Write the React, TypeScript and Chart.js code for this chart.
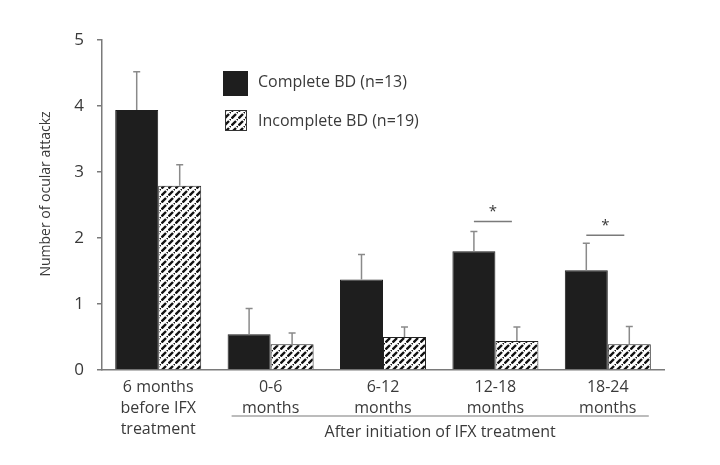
import React, { useEffect, useRef } from "react";
import { Chart, registerables } from "chart.js";

Chart.register(...registerables);

const categories: string[][] = [
  ["6 months", "before IFX", "treatment"],
  ["0-6", "months"],
  ["6-12", "months"],
  ["12-18", "months"],
  ["18-24", "months"],
];
const completeLabel = "Complete BD (n=13)";
const incompleteLabel = "Incomplete BD (n=19)";
const completeValues = [3.94, 0.54, 1.37, 1.8, 1.51];
const completeErrors = [0.58, 0.39, 0.38, 0.3, 0.41];
const incompleteValues = [2.79, 0.39, 0.5, 0.44, 0.39];
const incompleteErrors = [0.32, 0.17, 0.15, 0.21, 0.27];
const yTicks = [0, 1, 2, 3, 4, 5];
const sigIndices = [3, 4];
const sigLevels = [2.25, 2.04];
const yTitle = "Number of ocular attackz";
const groupTitle = "After initiation of IFX treatment";

const FONT = "'Open Sans', 'Noto Sans', sans-serif";
const TEXT = "#3a3a3a";
const AXIS = "#7a7a7a";

function makePattern(): CanvasPattern | string {
  const c = document.createElement("canvas");
  c.width = 7;
  c.height = 7;
  const g = c.getContext("2d");
  if (!g) return "#888";
  g.fillStyle = "#ffffff";
  g.fillRect(0, 0, 7, 7);
  g.strokeStyle = "#111";
  g.lineWidth = 2.4;
  g.lineCap = "butt";
  g.beginPath();
  g.moveTo(0.5, 6.5);
  g.lineTo(5, 2);
  g.stroke();
  g.beginPath();
  g.moveTo(6, 1);
  g.lineTo(7.5, -0.5);
  g.stroke();
  const p = g.createPattern(c, "repeat");
  return p || "#888";
}

const overlayPlugin = {
  id: "overlay",
  afterDatasetsDraw(chart: any) {
    const { ctx, scales } = chart;
    const ys = scales.y;
    ctx.save();
    const errs = [completeErrors, incompleteErrors];
    const vals = [completeValues, incompleteValues];
    [0, 1].forEach((d) => {
      const meta = chart.getDatasetMeta(d);
      meta.data.forEach((bar: any, i: number) => {
        const top = ys.getPixelForValue(vals[d][i]);
        const et = ys.getPixelForValue(vals[d][i] + errs[d][i]);
        ctx.strokeStyle = "#8a8a8a";
        ctx.lineWidth = 1.5;
        ctx.beginPath();
        ctx.moveTo(bar.x, top);
        ctx.lineTo(bar.x, et);
        ctx.moveTo(bar.x - 3.5, et);
        ctx.lineTo(bar.x + 3.5, et);
        ctx.stroke();
      });
    });
    const m0 = chart.getDatasetMeta(0);
    sigIndices.forEach((idx, k) => {
      const bar: any = m0.data[idx];
      const y = ys.getPixelForValue(sigLevels[k]);
      const x1 = bar.x;
      const x2 = bar.x + 38;
      ctx.strokeStyle = AXIS;
      ctx.lineWidth = 1.5;
      ctx.beginPath();
      ctx.moveTo(x1, y);
      ctx.lineTo(x2, y);
      ctx.stroke();
      ctx.fillStyle = TEXT;
      ctx.font = `15px ${FONT}`;
      ctx.textAlign = "center";
      ctx.textBaseline = "middle";
      ctx.fillText("*", (x1 + x2) / 2, y - 10);
    });
    ctx.restore();
  },
  afterDraw(chart: any) {
    const { ctx } = chart;
    ctx.save();
    ctx.fillStyle = TEXT;
    ctx.font = `14px ${FONT}`;
    ctx.textAlign = "center";
    ctx.textBaseline = "middle";
    ctx.translate(46, 194);
    ctx.rotate(-Math.PI / 2);
    ctx.fillText(yTitle, 0, 0);
    ctx.restore();

    ctx.save();
    const m0 = chart.getDatasetMeta(0);
    const m1 = chart.getDatasetMeta(1);
    const b0: any = m0.data[1];
    const b1: any = m1.data[4];
    const xs = b0.x - b0.width / 2 + 4;
    const xe = b1.x + b1.width / 2 - 2;
    ctx.strokeStyle = AXIS;
    ctx.lineWidth = 1.2;
    ctx.beginPath();
    ctx.moveTo(xs, 416);
    ctx.lineTo(xe, 416);
    ctx.stroke();
    ctx.fillStyle = TEXT;
    ctx.font = `16px ${FONT}`;
    ctx.textAlign = "center";
    ctx.textBaseline = "middle";
    ctx.fillText(groupTitle, (xs + xe) / 2, 432);

    ctx.fillStyle = "#1e1e1e";
    ctx.fillRect(223, 71, 25, 25);
    const pat = chart.data.datasets[1].backgroundColor;
    ctx.fillStyle = pat;
    ctx.fillRect(225, 110, 22, 21);
    ctx.strokeStyle = "#333";
    ctx.lineWidth = 1;
    ctx.strokeRect(225.5, 110.5, 21, 20);
    ctx.fillStyle = TEXT;
    ctx.font = `16px ${FONT}`;
    ctx.textAlign = "left";
    ctx.textBaseline = "middle";
    ctx.fillText(completeLabel, 258, 82);
    ctx.fillText(incompleteLabel, 258, 121);
    ctx.restore();
  },
};

export default function App() {
  const ref = useRef<HTMLCanvasElement | null>(null);
  useEffect(() => {
    if (!ref.current) return;
    const pattern = makePattern();
    const chart = new Chart(ref.current, {
      type: "bar",
      data: {
        labels: categories,
        datasets: [
          {
            label: completeLabel,
            data: completeValues,
            backgroundColor: "#1e1e1e",
            borderColor: "#1e1e1e",
            borderWidth: 1,
          },
          {
            label: incompleteLabel,
            data: incompleteValues,
            backgroundColor: pattern as any,
            borderColor: "#222",
            borderWidth: 1,
          },
        ],
      },
      options: {
        animation: false,
        responsive: true,
        maintainAspectRatio: false,
        layout: { padding: { left: 0, right: 56, top: 40, bottom: 0 } },
        datasets: { bar: { barPercentage: 1, categoryPercentage: 0.765 } },
        plugins: { legend: { display: false }, tooltip: { enabled: false } },
        scales: {
          x: {
            grid: { display: false, drawTicks: false },
            border: { display: true, color: AXIS, width: 1.5 },
            ticks: {
              color: TEXT,
              font: { family: FONT, size: 16, lineHeight: 1.3 },
              padding: 7,
              maxRotation: 0,
              autoSkip: false,
            },
            afterFit(scale: any) {
              scale.height = 95;
            },
          },
          y: {
            min: 0,
            max: 5,
            afterBuildTicks(scale: any) {
              scale.ticks = yTicks.map((v) => ({ value: v }));
            },
            grid: { drawOnChartArea: false, drawTicks: true, tickLength: 5, color: AXIS, lineWidth: 1.5 },
            border: { display: true, color: AXIS, width: 1.5 },
            ticks: {
              color: TEXT,
              font: { family: FONT, size: 17 },
              padding: 13,
            },
            afterFit(scale: any) {
              scale.width = 102;
            },
          },
        },
      },
      plugins: [overlayPlugin],
    });
    return () => chart.destroy();
  }, []);
  return (
    <div style={{ position: "absolute", left: 0, top: 0, width: 720, height: 465, background: "#fff" }}>
      <canvas ref={ref} />
    </div>
  );
}
